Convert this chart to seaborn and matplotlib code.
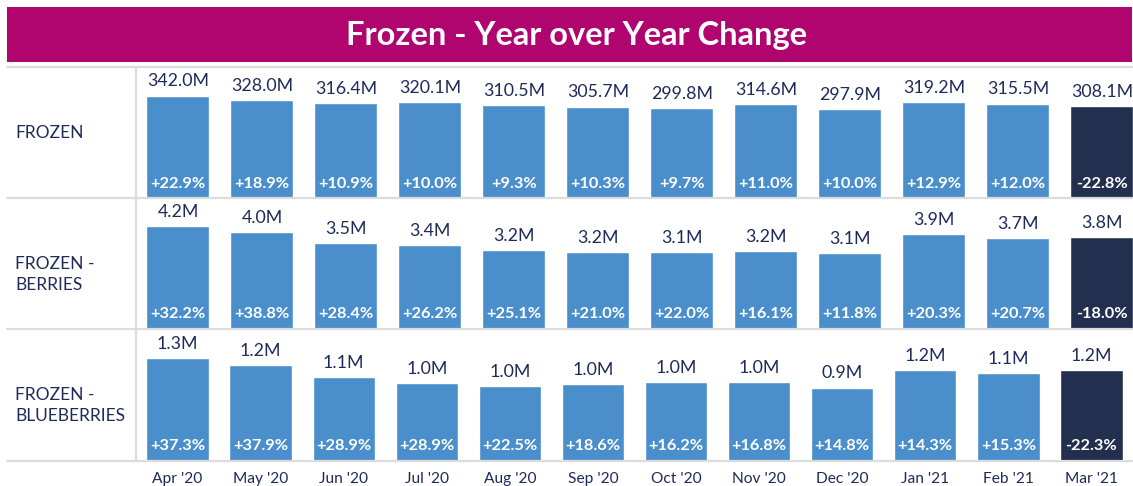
import numpy as np
import pandas as pd
import matplotlib
matplotlib.use("Agg")
import matplotlib.pyplot as plt
from matplotlib.lines import Line2D
from matplotlib.patches import Rectangle
import seaborn as sns

sns.set_style("white")
plt.rcParams['font.family'] = ['Lato', 'DejaVu Sans']

# data
months = ["Apr '20", "May '20", "Jun '20", "Jul '20", "Aug '20", "Sep '20",
          "Oct '20", "Nov '20", "Dec '20", "Jan '21", "Feb '21", "Mar '21"]
row_names = ["FROZEN", "FROZEN -\nBERRIES", "FROZEN -\nBLUEBERRIES"]

frozen = [342.0, 328.0, 316.4, 320.1, 310.5, 305.7, 299.8, 314.6, 297.9, 319.2, 315.5, 308.1]
frozen_pct = [22.9, 18.9, 10.9, 10.0, 9.3, 10.3, 9.7, 11.0, 10.0, 12.9, 12.0, -22.8]

berries = [4.22, 3.97, 3.53, 3.43, 3.23, 3.16, 3.14, 3.19, 3.11, 3.88, 3.72, 3.77]
berries_pct = [32.2, 38.8, 28.4, 26.2, 25.1, 21.0, 22.0, 16.1, 11.8, 20.3, 20.7, -18.0]

blueberries = [1.32, 1.23, 1.07, 1.0, 0.955, 0.98, 1.01, 1.01, 0.94, 1.16, 1.13, 1.16]
blueberries_pct = [37.3, 37.9, 28.9, 28.9, 22.5, 18.6, 16.2, 16.8, 14.8, 14.3, 15.3, -22.3]

values = [frozen, berries, blueberries]
pcts = [frozen_pct, berries_pct, blueberries_pct]

blue = '#4a8fcb'
dark = '#222f4e'
navy = '#1d2b58'
magenta = '#b0056f'
grid_grey = '#dcdcdc'

W, H = 1133, 486
fig = plt.figure(figsize=(W / 100, H / 100), dpi=100)

def fx(px):
    return px / W

def fy(py):
    return 1 - py / H

# title bar
fig.add_artist(Rectangle((fx(7), fy(62.3)), fx(1132 - 7), (62.3 - 7.3) / H,
                         transform=fig.transFigure, color=magenta, lw=0))
fig.text(fx(576), fy(36), "Frozen - Year over Year Change", color='white',
         fontsize=23.5, fontweight='bold', ha='center', va='center')

rows = [(66.7, 198.3), (198.3, 328.7), (328.7, 460.7)]
palette = [blue] * 11 + [dark]

for fy_line in [66.7, 198.3, 328.7, 460.7]:
    fig.add_artist(Line2D([fx(7), fx(1132)], [fy(fy_line), fy(fy_line)],
                          transform=fig.transFigure, color=grid_grey, lw=1.6))

for r, (top, bot) in enumerate(rows):
    ax = fig.add_axes([fx(136), fy(bot), fx(W - 136), (bot - top) / H])
    df = pd.DataFrame({'month': months, 'value': values[r]})
    sns.barplot(data=df, x='month', y='value', hue='month', palette=palette,
                width=0.75, legend=False, ax=ax, saturation=1)
    ax.set_xlim(-0.5, 11.37)
    ax.set_ylim(0, max(values[r]) * (bot - top) / 102.7)
    ax.set_yticks([])
    ax.set_ylabel('')
    ax.set_xlabel('')
    for s in ['top', 'right', 'bottom']:
        ax.spines[s].set_visible(False)
    ax.spines['left'].set_color(grid_grey)
    ax.spines['left'].set_linewidth(1.6)

    for i, cont in enumerate(ax.containers):
        ax.bar_label(cont, labels=[f"{values[r][i]:.1f}M"], padding=4.5,
                     color=navy, fontsize=12.8)
    for i, p in enumerate(pcts[r]):
        ax.annotate(f"{p:+.1f}%", xy=(i, 0), xytext=(0, 5.2), textcoords='offset points',
                    ha='center', va='bottom', color='white', fontsize=11.8,
                    fontweight='bold')

    fig.text(fx(15), fy((top + bot) / 2 + 11 * row_names[r].count('\n')), row_names[r],
             color=navy, fontsize=12.5, ha='left', va='center', linespacing=1.35)

    if r < 2:
        ax.set_xticks([])
    else:
        ax.set_xticks(range(len(months)))
        ax.set_xticklabels(months, color=navy, fontsize=11.2)
        ax.tick_params(axis='x', which='major', length=0, pad=8)
        ax.set_xticks(np.arange(-0.5, 12, 1), minor=True)
        ax.tick_params(axis='x', which='minor', length=5, color='#ececec', width=1)

fig.savefig('out.png', dpi=100)
